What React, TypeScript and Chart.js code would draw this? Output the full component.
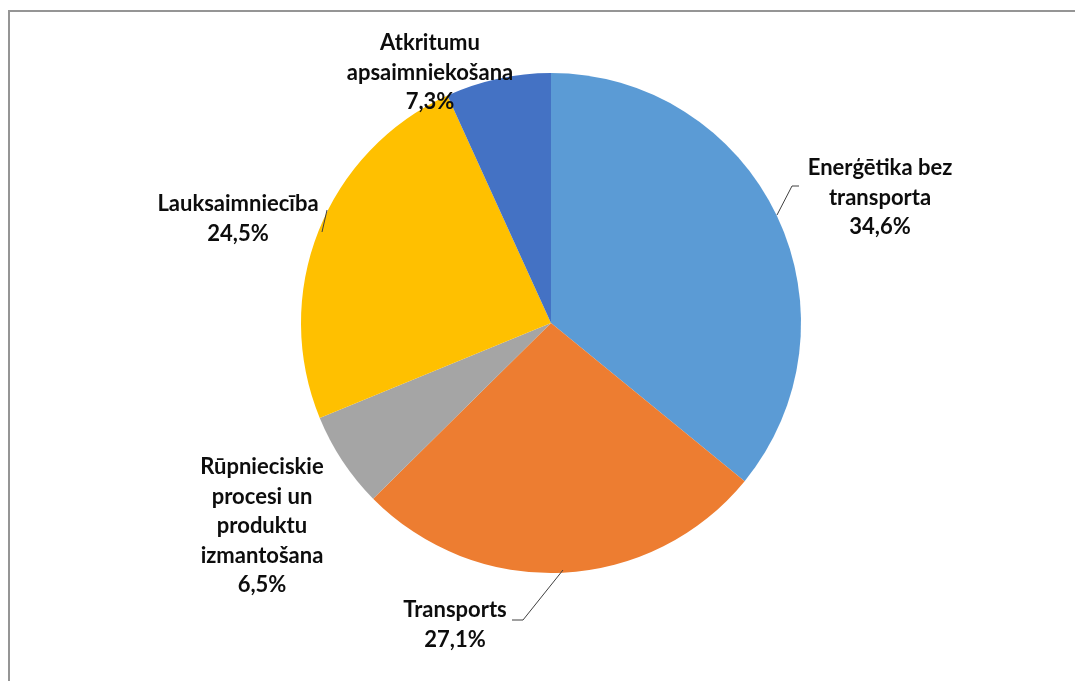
import React, { useEffect, useRef } from 'react';
import { Chart, registerables } from 'chart.js';

Chart.register(...registerables);

const categories = [
  'Enerģētika bez transporta',
  'Transports',
  'Rūpnieciskie procesi un produktu izmantošana',
  'Lauksaimniecība',
  'Atkritumu apsaimniekošana',
];
const labelLines = [
  ['Enerģētika bez', 'transporta'],
  ['Transports'],
  ['Rūpnieciskie', 'procesi un', 'produktu', 'izmantošana'],
  ['Lauksaimniecība'],
  ['Atkritumu', 'apsaimniekošana'],
];
// slice sizes as drawn in the picture (share of the full circle, %)
const sliceValues = [35.9, 26.7, 6.2, 24.4, 6.8];
// percentages printed in the data labels
const labelPercents = ['34,6%', '27,1%', '6,5%', '24,5%', '7,3%'];
const colors = ['#5B9BD5', '#ED7D31', '#A5A5A5', '#FFC000', '#4472C4'];

// label anchors relative to pie centre, in units of the radius
const labelAnchors = [
  [1.316, -0.62],
  [-0.384, 1.148],
  [-1.156, 0.576],
  [-1.252, -0.476],
  [-0.484, -1.12],
];
const leaders: number[][][] = [
  [[0.904, -0.432], [0.964, -0.548], [0.992, -0.548]],
  [[0.048, 0.988], [-0.112, 1.188], [-0.156, 1.188]],
  [],
  [[-0.896, -0.452], [-0.916, -0.364]],
  [],
];

const FONT = 'bold 22px Lato, "Open Sans", sans-serif';
const LINE_H = 29.5;

const labelPlugin = {
  id: 'outerLabels',
  afterDraw(chart: any) {
    const ctx = chart.ctx;
    const arc = chart.getDatasetMeta(0).data[0];
    if (!arc) return;
    const cx = arc.x;
    const cy = arc.y;
    const r = arc.outerRadius;
    ctx.save();
    ctx.strokeStyle = '#404040';
    ctx.lineWidth = 1;
    leaders.forEach((pts) => {
      if (!pts.length) return;
      ctx.beginPath();
      pts.forEach((p, i) => {
        const x = cx + p[0] * r;
        const y = cy + p[1] * r;
        if (i === 0) ctx.moveTo(x, y);
        else ctx.lineTo(x, y);
      });
      ctx.stroke();
    });
    ctx.font = FONT;
    ctx.fillStyle = '#0d0d0d';
    ctx.textAlign = 'center';
    ctx.textBaseline = 'middle';
    categories.forEach((_, i) => {
      const lines = [...labelLines[i], labelPercents[i]];
      const x = cx + labelAnchors[i][0] * r;
      const y0 = cy + labelAnchors[i][1] * r;
      lines.forEach((t, j) => ctx.fillText(t, x, y0 + j * LINE_H));
    });
    ctx.restore();
  },
};

const framePlugin = {
  id: 'frame',
  beforeDraw(chart: any) {
    const ctx = chart.ctx;
    ctx.save();
    ctx.fillStyle = '#ffffff';
    ctx.fillRect(0, 0, chart.width, chart.height);
    ctx.strokeStyle = '#959595';
    ctx.lineWidth = 2;
    ctx.strokeRect(9, 11, chart.width + 20, chart.height + 20);
    ctx.restore();
  },
};

export default function App() {
  const ref = useRef<HTMLCanvasElement | null>(null);
  useEffect(() => {
    if (!ref.current) return;
    const chart = new Chart(ref.current, {
      type: 'pie',
      data: {
        labels: categories,
        datasets: [
          {
            data: sliceValues,
            backgroundColor: colors,
            borderWidth: 0,
          },
        ],
      },
      options: {
        responsive: false,
        animation: false,
        layout: { padding: { left: 301, right: 274, top: 73, bottom: 108 } },
        plugins: {
          legend: { display: false },
          tooltip: { enabled: false },
        },
      },
      plugins: [framePlugin, labelPlugin],
    });
    return () => chart.destroy();
  }, []);
  return (
    <div style={{ position: 'fixed', left: 0, top: 0, width: 1075, height: 681, background: '#fff' }}>
      <canvas ref={ref} width={1075} height={681} style={{ display: 'block' }} />
    </div>
  );
}
